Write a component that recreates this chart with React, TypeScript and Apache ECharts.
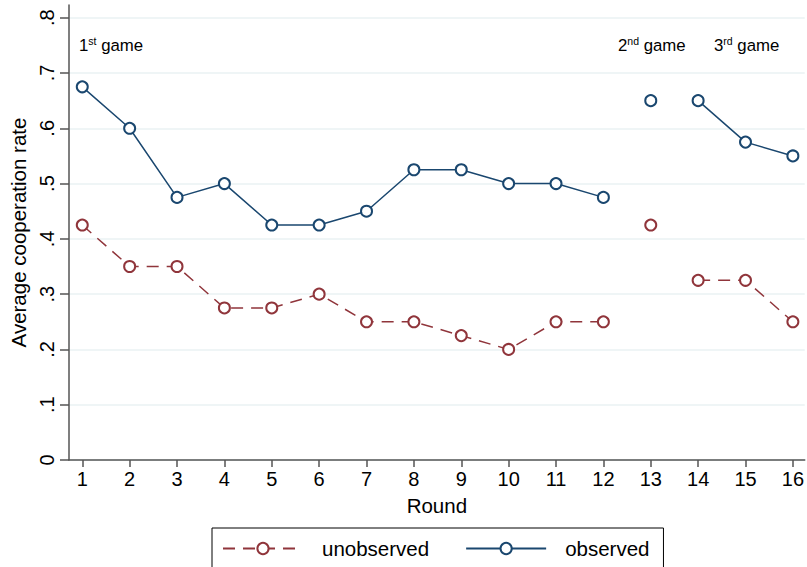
import React, { useEffect, useRef } from "react";
import * as echarts from "echarts";

const rounds = [1, 2, 3, 4, 5, 6, 7, 8, 9, 10, 11, 12, 13, 14, 15, 16];
const yTicks = [0, 0.1, 0.2, 0.3, 0.4, 0.5, 0.6, 0.7, 0.8];
const observed = [0.675, 0.6, 0.475, 0.5, 0.425, 0.425, 0.45, 0.525, 0.525, 0.5, 0.5, 0.475, 0.65, 0.65, 0.575, 0.55];
const unobserved = [0.425, 0.35, 0.35, 0.275, 0.275, 0.3, 0.25, 0.25, 0.225, 0.2, 0.25, 0.25, 0.425, 0.325, 0.325, 0.25];
// game segments: [first round, last round]
const games = [
  [1, 12],
  [13, 13],
  [14, 16],
];
const gameLabels = [
  { num: "1", sup: "st" },
  { num: "2", sup: "nd" },
  { num: "3", sup: "rd" },
];

const OBS = "#1a476f";
const UNOBS = "#90353b";
const FONT = "Liberation Sans, Arial, sans-serif";

function segs(values: number[]) {
  const out: (number | string)[][] = [];
  games.forEach(([a, b], gi) => {
    if (gi > 0) out.push([(a + games[gi - 1][1]) / 2, "-"]);
    for (let r = a; r <= b; r++) out.push([r, values[rounds.indexOf(r)]]);
  });
  return out;
}

export default function App() {
  const ref = useRef<HTMLDivElement>(null);
  useEffect(() => {
    if (!ref.current) return;
    const chart = echarts.init(ref.current, null, { renderer: "svg" });
    const symbolStyle = (c: string) => ({ color: "#fff", borderColor: c, borderWidth: 2 });
    chart.setOption({
      animation: false,
      textStyle: { fontFamily: FONT },
      grid: { left: 69, right: 0, top: 5, bottom: 107, containLabel: false },
      xAxis: {
        type: "value",
        min: 0.72,
        max: 16.25,
        name: "Round",
        nameLocation: "middle",
        nameGap: 35,
        nameTextStyle: { fontSize: 20.5, color: "#000", fontFamily: FONT },
        axisLine: { show: true, onZero: false, lineStyle: { color: "#555", width: 1.5 } },
        axisTick: { show: true, length: 7, lineStyle: { color: "#555", width: 1.5 }, customValues: rounds },
        axisLabel: { fontSize: 20, color: "#000", margin: 9, customValues: rounds, formatter: (v: number) => String(v) },
        splitLine: { show: false },
      },
      yAxis: {
        type: "value",
        min: 0,
        max: 0.823,
        name: "Average cooperation rate",
        nameLocation: "middle",
        nameGap: 40,
        nameTextStyle: { fontSize: 20.5, color: "#000", fontFamily: FONT },
        axisLine: { show: true, lineStyle: { color: "#555", width: 1.5 } },
        axisTick: { show: true, length: 9, lineStyle: { color: "#555", width: 1.5 }, customValues: yTicks },
        axisLabel: {
          fontSize: 20,
          color: "#000",
          rotate: 90,
          margin: 12,
          customValues: yTicks,
          formatter: (v: number) => (v === 0 ? "0" : String(Math.round(v * 10) / 10).replace(/^0/, "")),
        },
        splitLine: { show: true, lineStyle: { color: "#eaf2f3", width: 1.5 } },
      },
      legend: {
        left: 212,
        top: 528,
        orient: "horizontal",
        padding: [10, 14, 24, 10],
        borderColor: "#000",
        borderWidth: 1,
        itemGap: 36,
        itemWidth: 80,
        itemHeight: 14,
        textStyle: { fontSize: 20.5, color: "#000", fontFamily: FONT, padding: [0, 0, 0, 14] },
        data: ["unobserved", "observed"],
      },
      graphic: gameLabels.map((g, i) => ({
        type: "text",
        left: [79, 618, 714][i],
        top: 35,
        style: {
          text: `{n|${g.num}}{s|${g.sup}}{n| game}`,
          rich: {
            n: { fontSize: 16.8, fontFamily: FONT, fill: "#000" },
            s: { fontSize: 10.5, fontFamily: FONT, fill: "#000", verticalAlign: "top", padding: [0, 0, 9, 0] },
          },
        },
      })),
      series: [
        {
          name: "unobserved",
          type: "line",
          data: segs(unobserved),
          connectNulls: false,
          symbol: "circle",
          symbolSize: 11,
          showAllSymbol: true,
          lineStyle: { color: UNOBS, width: 1.5, type: [12, 8] },
          itemStyle: symbolStyle(UNOBS),
          color: UNOBS,
        },
        {
          name: "observed",
          type: "line",
          data: segs(observed),
          connectNulls: false,
          symbol: "circle",
          symbolSize: 11,
          showAllSymbol: true,
          lineStyle: { color: OBS, width: 1.5 },
          itemStyle: symbolStyle(OBS),
          color: OBS,
        },
      ],
    });
    return () => chart.dispose();
  }, []);
  return <div ref={ref} style={{ width: 807, height: 567, position: "absolute", left: 0, top: 0 }} />;
}
